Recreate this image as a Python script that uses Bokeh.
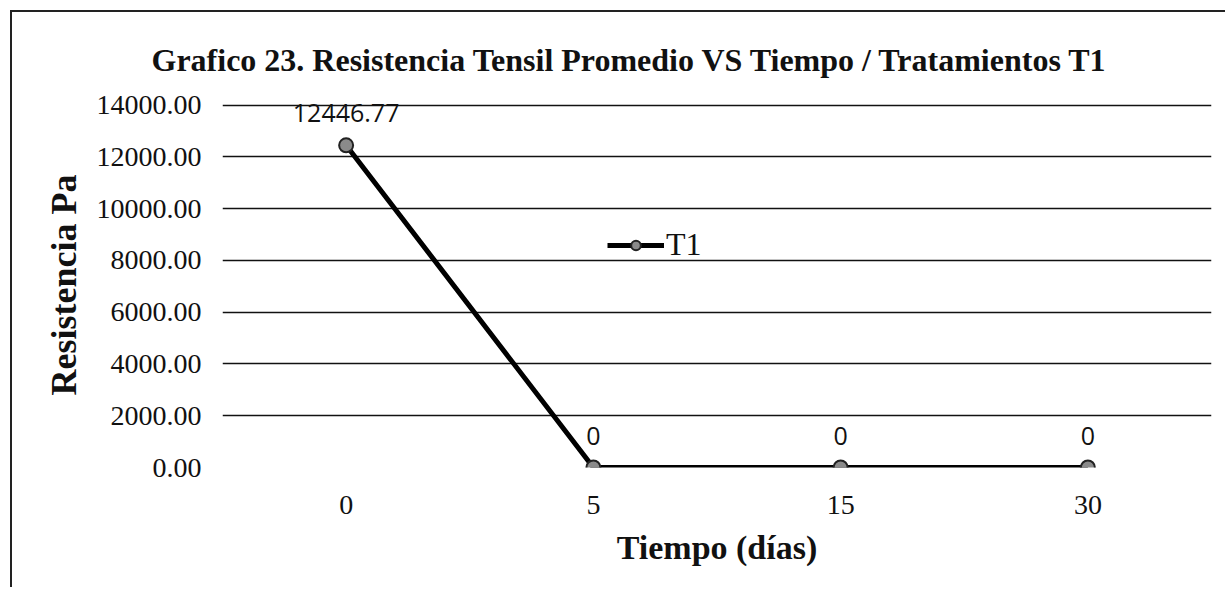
from bokeh.plotting import figure
from bokeh.models import (FactorRange, Range1d, ColumnDataSource, Legend, LegendItem, LabelSet,
                          FixedTicker, NumeralTickFormatter, Title)
from bokeh.core.properties import value
from bokeh.embed import file_html
from bokeh.resources import INLINE

days = ["0", "5", "15", "30"]
resistencia = [12446.77, 0, 0, 0]
labels = ["12446.77", "0", "0", "0"]
y_ticks = [0, 2000, 4000, 6000, 8000, 10000, 12000, 14000]

src = ColumnDataSource(dict(x=days, y=resistencia, lab=labels))

p = figure(x_range=FactorRange(*days), y_range=Range1d(0, 14100),
           width=1240, height=587, output_backend="svg", toolbar_location=None,
           min_border_left=222, min_border_right=29, min_border_top=102, min_border_bottom=120)
p.border_fill_color = None
p.styles = {"box-shadow": "inset 10px 10px 0px 0px #ffffff, inset 12px 12px 0px 0px #222222"}

p.title = Title(text="Grafico 23. Resistencia Tensil Promedio VS Tiempo / Tratamientos T1",
                align="left", text_font="Liberation Serif", text_font_size="32px",
                text_font_style="bold", text_color="#111111", offset=-71, standoff=50)

line = p.line("x", "y", source=src, line_color="black", line_width=5)
pts = p.scatter("x", "y", source=src, size=14, fill_color="#8a8a8a", line_color="#222222", line_width=2)

lbl = LabelSet(x="x", y="y", text="lab", source=src, text_align="center", text_baseline="bottom",
               y_offset=23, text_font=value("Open Sans"), text_font_size="25px", text_color="#111111")
p.add_layout(lbl)

legend = Legend(items=[LegendItem(label="T1", renderers=[line, pts])], location=(385, 204),
                label_text_font="Liberation Serif", label_text_font_size="32px",
                label_text_color="#111111", glyph_height=24,
                background_fill_alpha=0, border_line_alpha=0, glyph_width=57,
                label_standoff=2, padding=0, margin=0)
p.add_layout(legend, "center")

p.yaxis.ticker = FixedTicker(ticks=y_ticks)
p.yaxis.formatter = NumeralTickFormatter(format="0.00")
for ax in (p.xaxis, p.yaxis):
    ax.axis_line_color = None
    ax.major_tick_line_color = None
    ax.minor_tick_line_color = None
    ax.major_label_text_font = "Liberation Serif"
    ax.major_label_text_font_size = "28px"
    ax.major_label_text_color = "#111111"
    ax.axis_label_text_font = "Liberation Serif"
    ax.axis_label_text_font_style = "bold"
    ax.axis_label_text_color = "#111111"
p.xaxis.axis_label_text_font_size = "34px"
p.yaxis.axis_label_text_font_size = "36px"
p.yaxis.major_label_standoff = 15
p.xaxis.major_label_standoff = 22
p.xaxis.axis_label = "Tiempo (días)"
p.yaxis.axis_label = "Resistencia Pa"
p.yaxis.axis_label_standoff = 10
p.xaxis.axis_label_standoff = 12

p.xgrid.grid_line_color = None
p.ygrid.grid_line_color = "#111111"
p.ygrid.grid_line_width = 1.5
p.outline_line_color = None
p.x_range.range_padding = 0

open("out.html", "w").write(file_html(p, INLINE))
